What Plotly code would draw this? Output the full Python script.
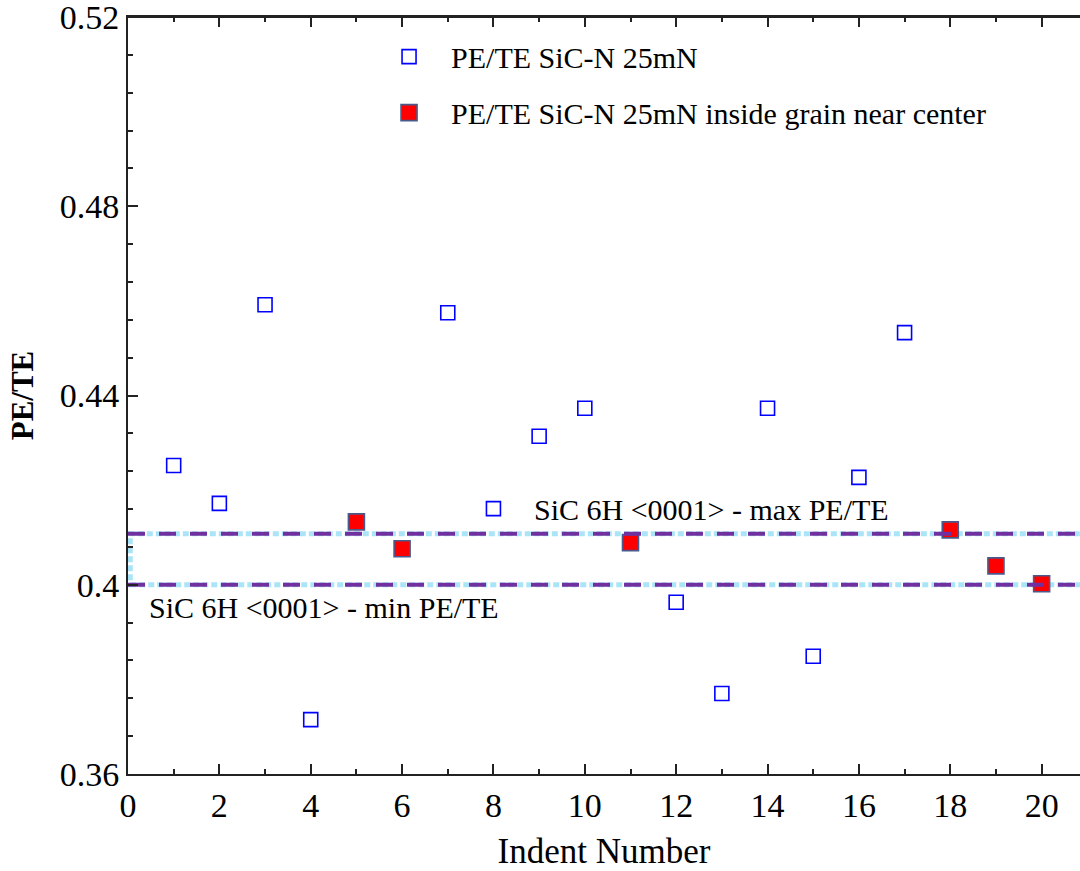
import plotly.graph_objects as go

# Indent numbers and PE/TE ratios, 25 mN indents on SiC-N
indent_all = [1, 2, 3, 4, 7, 8, 9, 10, 12, 13, 14, 15, 16, 17]
pe_te_all = [0.4252, 0.4172, 0.4592, 0.3715, 0.4575, 0.4161, 0.4314, 0.4373,
             0.3963, 0.3770, 0.4373, 0.3849, 0.4227, 0.4533]

# Indents placed inside a grain near its centre
indent_grain = [5, 6, 11, 18, 19, 20]
pe_te_grain = [0.4133, 0.4076, 0.4089, 0.4116, 0.4040, 0.4002]

# Reference band for single-crystal SiC 6H <0001>
sic6h_max = 0.4108
sic6h_min = 0.4000
band_x = [0, 22]

FONT = "Liberation Serif, Times New Roman, serif"
AX = "#222222"

fig = go.Figure()

# light-blue dotted band outline
fig.add_shape(type="rect", xref="x", yref="y", x0=0.05, x1=22,
              y0=sic6h_min, y1=sic6h_max,
              line=dict(color="#a9e4f7", width=5, dash="6px,3px"),
              layer="below")

# purple dashed limits (on the top-side axis, which mirrors the bottom one)
for yv in (sic6h_max, sic6h_min):
    fig.add_trace(go.Scatter(
        x=band_x, y=[yv, yv], mode="lines", showlegend=False, hoverinfo="skip",
        xaxis="x2", yaxis="y",
        line=dict(color="#7030a0", width=4, dash="17px,14px"),
    ))

fig.add_trace(go.Scatter(
    x=indent_all, y=pe_te_all, mode="markers",
    name="PE/TE SiC-N 25mN", legendgroup="a",
    marker=dict(symbol="square-open", size=14, color="#0000ff",
                line=dict(color="#0000ff", width=1.6)),
))
fig.add_trace(go.Scatter(
    x=indent_grain, y=pe_te_grain, mode="markers",
    name="PE/TE SiC-N 25mN inside grain near center", legendgroup="b",
    marker=dict(symbol="square", size=16, color="#ff0000",
                line=dict(color="#4a5a8c", width=1.6)),
))

fig.add_annotation(x=8.84, y=sic6h_max, xref="x", yref="y",
                   text="SiC 6H &lt;0001&gt; - max PE/TE", showarrow=False,
                   xanchor="left", yanchor="bottom", yshift=6,
                   font=dict(family=FONT, size=30, color="black"))
fig.add_annotation(x=0.41, y=sic6h_min, xref="x", yref="y",
                   text="SiC 6H &lt;0001&gt; - min PE/TE", showarrow=False,
                   xanchor="left", yanchor="top", yshift=-4,
                   font=dict(family=FONT, size=30, color="black"))

# top frame edge
fig.add_shape(type="line", xref="paper", yref="paper", x0=0, x1=1, y0=1, y1=1,
              line=dict(color=AX, width=2), layer="above")

axis_common = dict(
    showline=True, linecolor=AX, linewidth=2,
    ticks="inside", ticklen=10, tickwidth=1.5, tickcolor=AX,
    showgrid=False, zeroline=False, ticklabeloverflow="allow",
    tickfont=dict(family=FONT, size=34, color="black"),
)
x_minor = dict(dtick=1, ticks="inside", ticklen=5, tickwidth=1.5, tickcolor=AX)

fig.update_layout(
    xaxis=dict(
        **axis_common, range=[0, 20.84], tick0=0, dtick=2,
        minor=x_minor,
        title=dict(text="Indent Number", font=dict(family=FONT, size=35, color="black"),
                   standoff=16),
    ),
    xaxis2=dict(
        **axis_common, matches="x", overlaying="x", side="top", anchor="y",
        tick0=0, dtick=2, minor=x_minor, showticklabels=False,
    ),
    yaxis=dict(
        **axis_common, range=[0.36, 0.52001], tick0=0.36, dtick=0.04,
        minor=dict(dtick=0.008, ticks="inside", ticklen=5, tickwidth=1.5, tickcolor=AX),
        title=dict(text="<b>PE/TE</b>", font=dict(family=FONT, size=31, color="black"),
                   standoff=17),
    ),
    width=1080, height=871,
    margin=dict(l=128, r=0, t=17, b=97),
    paper_bgcolor="white", plot_bgcolor="white",
    showlegend=True,
    legend=dict(x=0.2511, y=0.982, xanchor="left", yanchor="top",
                bgcolor="rgba(0,0,0,0)", borderwidth=0,
                font=dict(family=FONT, size=30, color="black"),
                tracegroupgap=14, itemwidth=74),
)

fig.write_html("out.html")
